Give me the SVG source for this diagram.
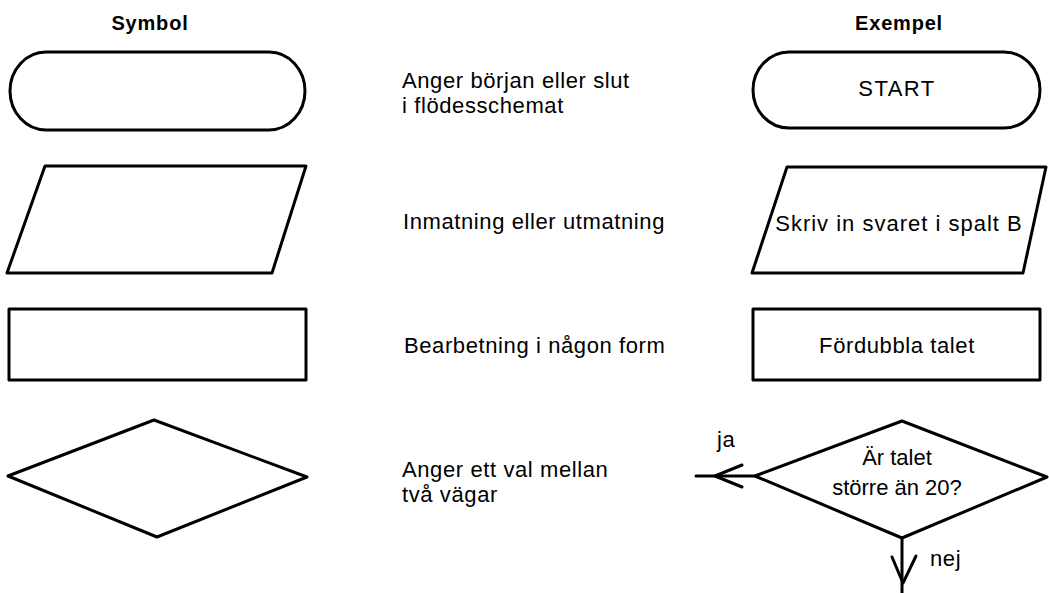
<svg xmlns="http://www.w3.org/2000/svg" width="1049" height="593" viewBox="0 0 1049 593">
<style>
.s{fill:#fff;stroke:#000;stroke-width:3;stroke-linejoin:round}
.t{font-family:"Liberation Sans",Arial,sans-serif;font-size:22px;fill:#000;letter-spacing:0.6px}
.c{text-anchor:middle}
.h{font-family:"Liberation Sans",Arial,sans-serif;font-size:20px;font-weight:bold;fill:#000;text-anchor:middle;letter-spacing:0.8px}
.l{fill:none;stroke:#000;stroke-width:3;stroke-linecap:round;stroke-linejoin:round}
</style>
<rect width="1049" height="593" fill="#fff"/>
<g id="headers">
<text class="h" x="150" y="30">Symbol</text>
<text class="h" x="899" y="30">Exempel</text>
</g>
<g id="sym-terminal"><rect class="s" x="10" y="52" width="295" height="78" rx="36" ry="39"/></g>
<g id="sym-io"><polygon class="s" points="45,166 306,166 272,273 7,273"/></g>
<g id="sym-process"><rect class="s" x="9" y="309" width="297" height="71"/></g>
<g id="sym-decision"><polygon class="s" points="154,420 307,477 157,537 8,476"/></g>
<g id="desc-terminal">
<text class="t" x="402" y="88">Anger början eller slut</text>
<text class="t" x="402" y="113">i flödesschemat</text>
</g>
<g id="desc-io"><text class="t" x="403" y="229">Inmatning eller utmatning</text></g>
<g id="desc-process"><text class="t" x="404" y="353">Bearbetning i någon form</text></g>
<g id="desc-decision">
<text class="t" x="402" y="477">Anger ett val mellan</text>
<text class="t" x="402" y="502">två vägar</text>
</g>
<g id="ex-start">
<rect class="s" x="753" y="52" width="287" height="76" rx="36" ry="38"/>
<text class="t c" x="897" y="96" style="letter-spacing:1.5px">START</text>
</g>
<g id="ex-io">
<polygon class="s" points="787,167 1046,167 1023,273 752,273"/>
<text class="t c" x="899" y="231" style="letter-spacing:1px">Skriv in svaret i spalt B</text>
</g>
<g id="ex-process">
<rect class="s" x="753" y="309" width="287" height="71"/>
<text class="t c" x="897" y="353">Fördubbla talet</text>
</g>
<g id="ex-decision">
<polygon class="s" points="902,421 1047,477 902,538 755,476"/>
<text class="t c" x="897" y="465" style="letter-spacing:0">Är talet</text>
<text class="t c" x="897" y="495" style="letter-spacing:0">större än 20?</text>
</g>
<g id="connectors">
<path class="l" d="M755,476 H696"/>
<path class="l" d="M742,465 L715,476 L742,487"/>
<path class="l" d="M902,538 V593"/>
<path class="l" d="M892,557 L903,583 L916,556"/>
<text class="t" x="717" y="447">ja</text>
<text class="t" x="930" y="566">nej</text>
</g>
</svg>
